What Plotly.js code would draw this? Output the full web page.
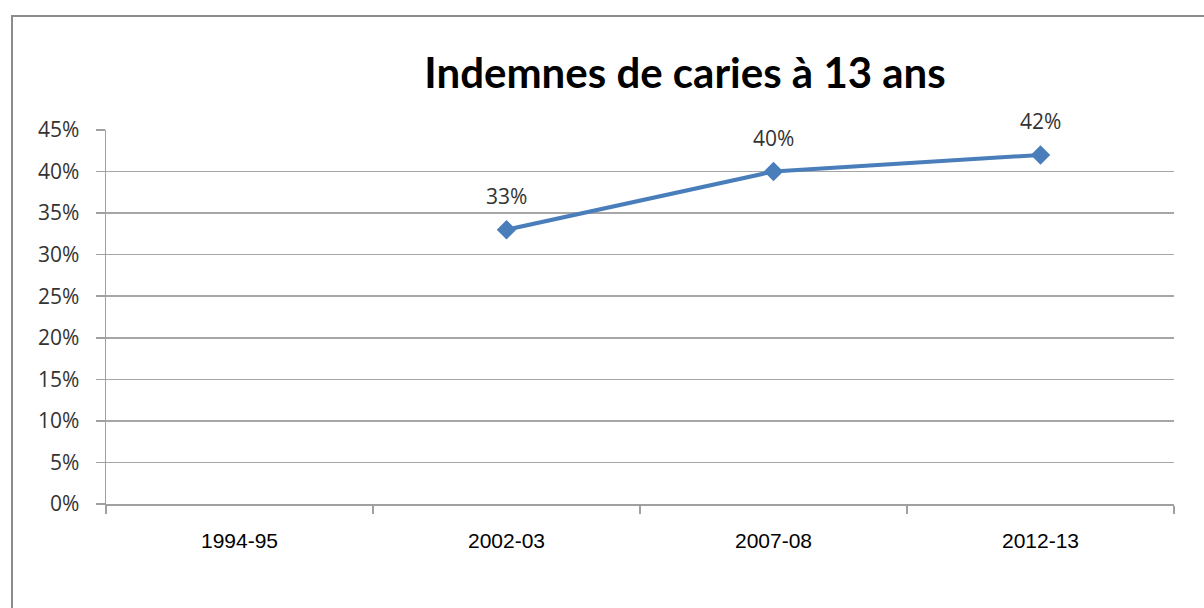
<!DOCTYPE html>
<html>
<head>
<meta charset="utf-8">
<script src="https://cdn.plot.ly/plotly-3.0.1.min.js"></script>
<style>
html,body{margin:0;padding:0;background:#fff;}
#wrap{position:relative;width:1204px;height:608px;overflow:hidden;}
#frame{position:absolute;left:11px;top:15px;width:1200px;height:620px;border:2px solid #8c8c8c;box-sizing:border-box;pointer-events:none;}
#chart{position:absolute;left:0;top:0;width:1204px;height:608px;}
</style>
</head>
<body>
<div id="wrap">
<div id="chart"></div>
<div id="frame"></div>
</div>
<script>
const categories = ["1994-95", "2002-03", "2007-08", "2012-13"];
const values = [null, 0.33, 0.40, 0.42];
const labels = ["", "33%", "40%", "42%"];
const titleText = "Indemnes de caries à 13 ans";

const trace = {
  x: categories,
  y: values,
  type: "scatter",
  mode: "lines+markers",
  line: {color: "#4a7ebb", width: 4},
  marker: {symbol: "diamond", size: 15, color: "#4a7ebb"},
  connectgaps: false,
  hoverinfo: "skip"
};

const annotations = [];
categories.forEach((c, i) => {
  if (values[i] !== null) {
    annotations.push({
      x: c, y: values[i], xref: "x", yref: "y",
      text: labels[i], showarrow: false, yshift: 34,
      font: {family: "Open Sans, sans-serif", size: 21, color: "#333"}
    });
  }
});

const layout = {
  width: 1204, height: 608,
  margin: {l: 106, r: 30, t: 130, b: 104},
  paper_bgcolor: "#fff", plot_bgcolor: "#fff",
  showlegend: false,
  title: {
    text: "<b>" + titleText + "</b>",
    x: 0.569, xanchor: "center", y: 0.88, yanchor: "middle",
    font: {family: "Lato, sans-serif", size: 42, color: "#000"}
  },
  xaxis: {
    type: "category",
    range: [-0.5, 3.5],
    tickson: "boundaries",
    ticks: "outside", ticklen: 8, tickcolor: "#a0a0a0", tickwidth: 1.5,
    showline: true, linecolor: "#a0a0a0", linewidth: 1.5,
    showgrid: false, zeroline: false,
    tickfont: {family: "Liberation Sans, sans-serif", size: 21, color: "#000"},
    ticklabelstandoff: 17
  },
  yaxis: {
    range: [0, 0.45],
    dtick: 0.05, tick0: 0,
    tickformat: ".0%",
    ticks: "outside", ticklen: 9, tickcolor: "#a0a0a0", tickwidth: 1.5,
    showline: true, linecolor: "#a0a0a0", linewidth: 1.5,
    showgrid: true, gridcolor: "#a6a6a6", gridwidth: 1.5,
    zeroline: false,
    tickfont: {family: "Open Sans, sans-serif", size: 21, color: "#333"},
    ticklabelstandoff: 12
  },
  annotations: annotations
};

Plotly.newPlot("chart", [trace], layout, {displayModeBar: false, staticPlot: true});
</script>
</body>
</html>
